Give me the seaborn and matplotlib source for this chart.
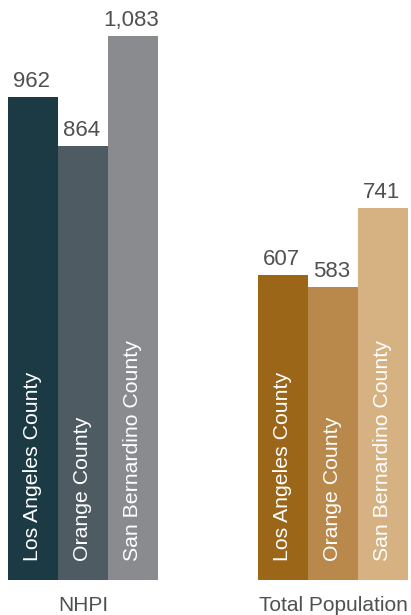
import matplotlib
matplotlib.use("Agg")
import matplotlib.pyplot as plt
import seaborn as sns
import pandas as pd

groups = ["NHPI", "NHPI", "NHPI", "Total Population", "Total Population", "Total Population"]
counties = ["Los Angeles County", "Orange County", "San Bernardino County",
            "Los Angeles County", "Orange County", "San Bernardino County"]
values = [962, 864, 1083, 607, 583, 741]
slots = [0, 1, 2, 5, 6, 7]
colors = ["#1b3a44", "#4f5b62", "#898b8f", "#9c6619", "#b9884b", "#d6b283"]
group_labels = ["NHPI", "Total Population"]
group_centers = [1, 6]

df = pd.DataFrame({"slot": slots, "value": values, "county": counties, "group": groups})
df["key"] = [f"{g}|{c}" for g, c in zip(groups, counties)]

sns.set_style("white")
plt.rcParams["font.family"] = ["Liberation Sans", "DejaVu Sans"]

fig = plt.figure(figsize=(4.11, 6.15), dpi=100)
ax = fig.add_axes([0, 35 / 615, 1, 544 / 615])

sns.barplot(data=df, x="slot", y="value", hue="key", palette=colors,
            native_scale=True, width=1.0, dodge=False, legend=False,
            saturation=1, ax=ax, linewidth=0)

ax.set_xlim(-0.66, 7.56)
ax.set_ylim(0, 1083)
ax.axis("off")

text_color = "#505050"
for s, v, c in zip(slots, values, counties):
    ax.text(s - 0.03, v + 20, f"{v:,}", ha="center", va="baseline", fontsize=16,
            color=text_color, clip_on=False)
    ax.text(s - 0.02, 38, c, rotation=90, ha="center", va="bottom", fontsize=15.3,
            color="white")

for gx, gl in zip(group_centers, group_labels):
    ax.text(gx, -62, gl, ha="center", va="baseline", fontsize=15,
            color=text_color, clip_on=False)

fig.savefig("out.png", dpi=100)
